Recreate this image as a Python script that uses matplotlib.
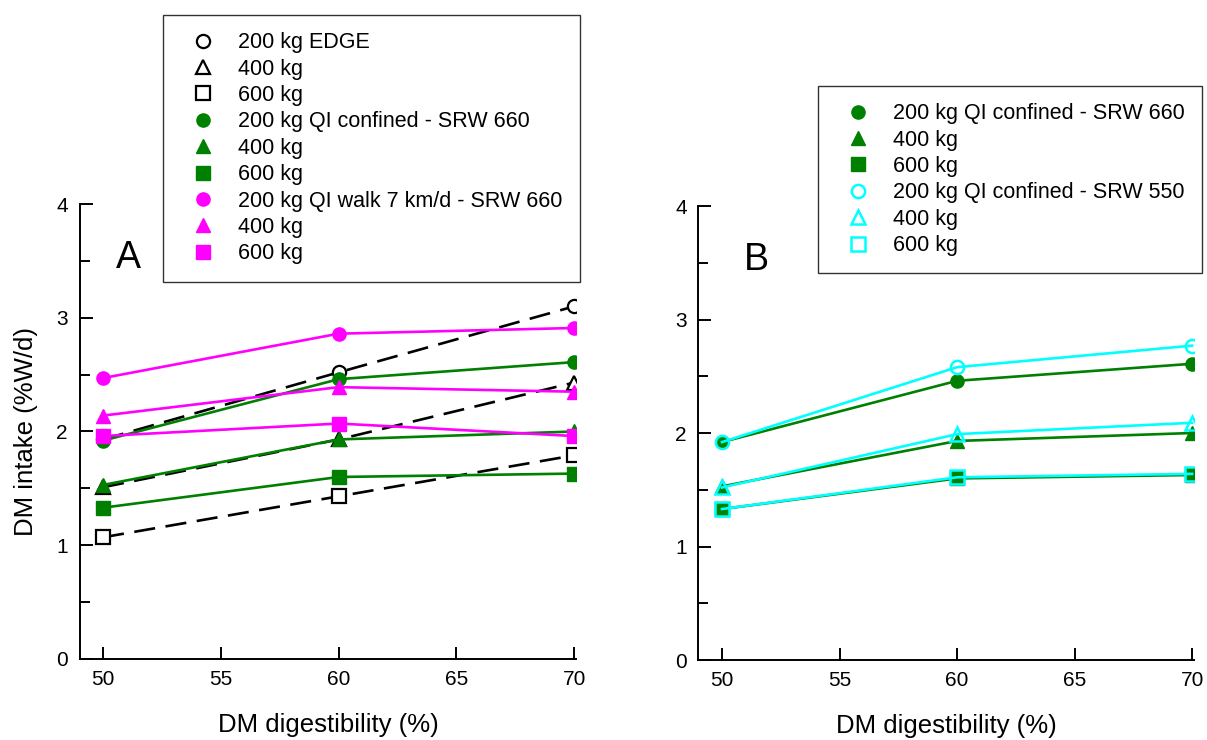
import matplotlib
matplotlib.use("Agg")
import matplotlib.pyplot as plt
from matplotlib.lines import Line2D
from matplotlib.ticker import MultipleLocator

plt.rcParams['font.family'] = ['Liberation Sans', 'DejaVu Sans']

digest = [50, 60, 70]

# panel A
edge_200 = [1.93, 2.52, 3.10]
edge_400 = [1.51, 1.93, 2.43]
edge_600 = [1.07, 1.43, 1.79]
conf660_200 = [1.92, 2.46, 2.61]
conf660_400 = [1.53, 1.93, 2.00]
conf660_600 = [1.33, 1.60, 1.63]
walk660_200 = [2.47, 2.86, 2.91]
walk660_400 = [2.14, 2.39, 2.35]
walk660_600 = [1.96, 2.07, 1.96]

# panel B
conf550_200 = [1.92, 2.58, 2.77]
conf550_400 = [1.52, 1.99, 2.09]
conf550_600 = [1.33, 1.61, 1.64]

labels_a = ["200 kg EDGE", "400 kg", "600 kg",
            "200 kg QI confined - SRW 660", "400 kg", "600 kg",
            "200 kg QI walk 7 km/d - SRW 660", "400 kg", "600 kg"]
labels_b = ["200 kg QI confined - SRW 660", "400 kg", "600 kg",
            "200 kg QI confined - SRW 550", "400 kg", "600 kg"]

green = '#008000'
magenta = '#FF00FF'
cyan = '#00FFFF'
shapes = ['o', '^', 's']

fig = plt.figure(figsize=(12.07, 7.4), dpi=100)
axA = fig.add_axes([0.0659, 0.1095, 0.4117, 0.6148])
axB = fig.add_axes([0.5787, 0.1081, 0.4109, 0.6135])

lw = 1.9
ms = 9.5


def style(ax):
    ax.set_xlim(49.0, 70.1)
    ax.set_ylim(0, 4)
    for s in ['top', 'right']:
        ax.spines[s].set_visible(False)
    for s in ['left', 'bottom']:
        ax.spines[s].set_linewidth(1.4)
    ax.xaxis.set_major_locator(MultipleLocator(5))
    ax.yaxis.set_major_locator(MultipleLocator(1))
    ax.yaxis.set_minor_locator(MultipleLocator(0.5))
    ax.tick_params(which='both', direction='in', width=1.4, labelsize=15)
    ax.tick_params(which='major', length=9)
    ax.tick_params(which='minor', length=7)
    ax.tick_params(axis='x', pad=8)
    ax.tick_params(axis='y', pad=8.5)
    ax.set_xlabel("DM digestibility (%)", fontsize=18.5)
    ax.xaxis.label.set_va('baseline')
    ax.xaxis.set_label_coords(0.5, -0.1604)


handles_a = []
for vals, m in zip([edge_200, edge_400, edge_600], shapes):
    axA.plot(digest, vals, color='black', lw=lw, dashes=(8, 4), marker=m,
             ms=ms, mfc='white', mec='black', mew=1.6, zorder=2)
    handles_a.append(Line2D([], [], ls='none', marker=m, ms=ms, mfc='white',
                            mec='black', mew=1.6))
for vals, m in zip([conf660_200, conf660_400, conf660_600], shapes):
    axA.plot(digest, vals, color=green, lw=lw, marker=m, ms=ms,
             mfc=green, mec=green, zorder=3)
    handles_a.append(Line2D([], [], ls='none', marker=m, ms=ms, color=green))
for vals, m in zip([walk660_200, walk660_400, walk660_600], shapes):
    axA.plot(digest, vals, color=magenta, lw=lw, marker=m, ms=ms,
             mfc=magenta, mec=magenta, zorder=4)
    handles_a.append(Line2D([], [], ls='none', marker=m, ms=ms, color=magenta))

handles_b = []
for vals, m in zip([conf660_200, conf660_400, conf660_600], shapes):
    axB.plot(digest, vals, color=green, lw=lw, marker=m, ms=ms,
             mfc=green, mec=green, zorder=3)
    handles_b.append(Line2D([], [], ls='none', marker=m, ms=ms, color=green))
for vals, m in zip([conf550_200, conf550_400, conf550_600], shapes):
    axB.plot(digest, vals, color=cyan, lw=lw, marker=m, ms=ms,
             mfc='none', mec=cyan, mew=1.8, zorder=4)
    handles_b.append(Line2D([], [], ls='none', marker=m, ms=ms, mfc='none',
                            mec=cyan, mew=1.8))

style(axA)
style(axB)
axA.set_ylabel("DM intake (%W/d)", fontsize=18.5)
axA.yaxis.set_label_coords(-0.0835, 0.5)

axA.text(51.08, 3.437, "A", fontsize=27, ha='center', va='baseline')
axB.text(51.45, 3.436, "B", fontsize=27, ha='center', va='baseline')

leg_kw = dict(loc='upper left', fontsize=15.5, frameon=True, fancybox=False,
              edgecolor='black', borderaxespad=0, handlelength=2.1,
              handletextpad=0.58, labelspacing=0.25, borderpad=0.8)
legA = fig.legend(handles_a, labels_a, bbox_to_anchor=(163 / 1207, 1 - 15 / 740), **leg_kw)
legB = fig.legend(handles_b, labels_b, bbox_to_anchor=(818 / 1207, 1 - 86 / 740), **leg_kw)
for leg in (legA, legB):
    leg.get_frame().set_linewidth(1.0)

fig.savefig("out.png", dpi=100)
